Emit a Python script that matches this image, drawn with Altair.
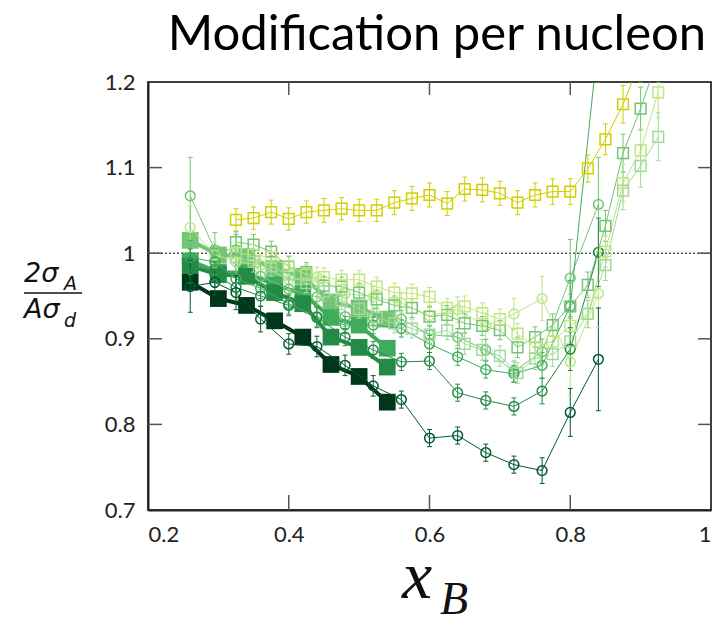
import altair as alt
import pandas as pd

# ---------------- data ----------------
x_filled = [0.26, 0.30, 0.34, 0.38, 0.42, 0.46, 0.50, 0.54]
y_f_C = [1.015, 0.998, 0.996, 0.982, 0.973, 0.943, 0.936, 0.923]
y_f_Al = [0.991, 0.978, 0.977, 0.963, 0.953, 0.925, 0.916, 0.889]
y_f_Fe = [0.985, 0.975, 0.973, 0.954, 0.941, 0.902, 0.890, 0.867]
y_f_Pb = [0.966, 0.947, 0.939, 0.921, 0.902, 0.870, 0.856, 0.826]

x_circle = [0.26, 0.295, 0.325, 0.36, 0.40, 0.44, 0.48, 0.52,
            0.56, 0.60, 0.64, 0.68, 0.72, 0.76, 0.80, 0.84]
y_c1 = [0.961, 0.966, 0.954, 0.923, 0.894, 0.891, 0.869, 0.845,
        0.829, 0.784, 0.787, 0.767, 0.753, 0.746, 0.814, 0.876]
e_c1 = [0.030, 0.015, 0.020, 0.015, 0.012, 0.012, 0.012, 0.012,
        0.010, 0.010, 0.010, 0.010, 0.010, 0.015, 0.028, 0.060]
y_c2 = [0.985, 0.975, 0.960, 0.950, 0.939, 0.925, 0.902, 0.887,
        0.873, 0.874, 0.837, 0.828, 0.821, 0.839, 0.888, 1.001]
e_c2 = [0.020, 0.015, 0.015, 0.012, 0.012, 0.012, 0.010, 0.010,
        0.010, 0.010, 0.010, 0.010, 0.010, 0.015, 0.025, 0.040]
y_c3 = [0.995, 0.990, 0.970, 0.959, 0.941, 0.926, 0.916, 0.916,
        0.912, 0.894, 0.879, 0.864, 0.859, 0.869, 0.938, 1.250]
e_c3 = [0.020, 0.015, 0.015, 0.012, 0.012, 0.012, 0.010, 0.010,
        0.010, 0.010, 0.010, 0.010, 0.010, 0.015, 0.030, 0.050]
y_c4 = [1.067, 1.004, 1.004, 0.973, 0.958, 0.949, 0.926, 0.925,
        0.923, 0.905, 0.902, 0.887, 0.862, 0.885, 0.971, 1.057]
e_c4 = [0.045, 0.020, 0.018, 0.015, 0.012, 0.012, 0.012, 0.010,
        0.010, 0.010, 0.010, 0.012, 0.012, 0.015, 0.045, 0.055]
y_c5 = [1.030, 0.998, 0.990, 0.986, 0.969, 0.972, 0.953, 0.949,
        0.942, 0.927, 0.934, 0.915, 0.929, 0.947, 0.873, 0.953]
e_c5 = [0.025, 0.015, 0.015, 0.012, 0.012, 0.012, 0.012, 0.012,
        0.012, 0.012, 0.015, 0.015, 0.018, 0.026, 0.040, 0.040]

x_square = [0.325, 0.35, 0.375, 0.40, 0.425, 0.45, 0.475, 0.50, 0.525,
            0.55, 0.575, 0.60, 0.625, 0.65, 0.675, 0.70, 0.725, 0.75,
            0.775, 0.80, 0.825, 0.85, 0.875, 0.90, 0.925]
y_s_he3 = [1.039, 1.041, 1.048, 1.040, 1.048, 1.050, 1.052, 1.050, 1.050,
           1.059, 1.064, 1.068, 1.058, 1.075, 1.074, 1.070, 1.059, 1.068,
           1.072, 1.072, 1.099, 1.133, 1.174, 1.225]
e_s_he3 = [0.013, 0.013, 0.014, 0.013, 0.013, 0.014, 0.013, 0.013, 0.013,
           0.014, 0.014, 0.014, 0.014, 0.014, 0.014, 0.014, 0.014, 0.014,
           0.015, 0.015, 0.016, 0.018, 0.022, 0.025]
y_s_g = [1.013, 1.010, 1.002, 0.984, 0.978, 0.962, 0.961, 0.954, 0.946,
         0.939, 0.936, 0.926, 0.928, 0.918, 0.915, 0.910, 0.890, 0.902,
         0.916, 0.938, 0.963, 1.032, 1.117, 1.169, 1.230]
e_s_g = [0.012, 0.012, 0.012, 0.012, 0.011, 0.011, 0.011, 0.011, 0.011,
         0.011, 0.011, 0.011, 0.011, 0.011, 0.011, 0.011, 0.012, 0.012,
         0.013, 0.014, 0.015, 0.018, 0.022, 0.025, 0.030]
y_s_yg = [1.000, 0.998, 0.995, 0.985, 0.975, 0.972, 0.969, 0.969, 0.961,
          0.954, 0.953, 0.949, 0.936, 0.938, 0.930, 0.923, 0.906, 0.890,
          0.897, 0.915, 0.929, 1.002, 1.082, 1.120, 1.188]
e_s_yg = [0.012, 0.012, 0.012, 0.012, 0.011, 0.011, 0.011, 0.011, 0.011,
          0.011, 0.011, 0.011, 0.011, 0.012, 0.012, 0.012, 0.012, 0.013,
          0.014, 0.015, 0.016, 0.018, 0.022, 0.025, 0.030]
y_s_lg = [0.995, 0.990, 0.985, 0.975, 0.965, 0.955, 0.945, 0.935, 0.925,
          0.918, 0.912, 0.905, 0.910, 0.894, 0.887, 0.880, 0.860, 0.877,
          0.882, 0.897, 0.929, 0.986, 1.073, 1.102, 1.136]
e_s_lg = [0.012, 0.012, 0.012, 0.012, 0.011, 0.011, 0.011, 0.011, 0.011,
          0.011, 0.011, 0.011, 0.011, 0.012, 0.012, 0.012, 0.012, 0.013,
          0.014, 0.015, 0.016, 0.018, 0.022, 0.025, 0.028]

series_names = ["he3_sq", "g_sq", "yg_sq", "lg_sq",
                "c5", "c4", "c3", "c2", "c1",
                "C_f", "Al_f", "Fe_f", "Pb_f"]
series_colors = ["#d0d000", "#74c476", "#c2e67f", "#a1d99b",
                 "#bfe58a", "#74c476", "#41ab5d", "#238b45", "#005a32",
                 "#74c476", "#41ab5d", "#238b45", "#00361a"]

x_inner_ticks = [0.4, 0.6, 0.8]
y_inner_ticks = [0.8, 0.9, 1.0, 1.1]
x_labels = [0.2, 0.4, 0.6, 0.8, 1.0]
y_labels = [0.7, 0.8, 0.9, 1.0, 1.1, 1.2]
unity = [1.0]
title_text = "Modification per nucleon"

# ---------------- tables ----------------
rows = []


def add(name, kind, xs, ys, es):
    for xv, yv, ev in zip(xs, ys, es):
        rows.append({"s": name, "kind": kind, "x": xv, "y": yv,
                     "lo": yv - ev, "hi": yv + ev})


add("he3_sq", "square", x_square, y_s_he3, e_s_he3)
add("g_sq", "square", x_square, y_s_g, e_s_g)
add("yg_sq", "square", x_square, y_s_yg, e_s_yg)
add("lg_sq", "square", x_square, y_s_lg, e_s_lg)
add("c5", "circle", x_circle, y_c5, e_c5)
add("c4", "circle", x_circle, y_c4, e_c4)
add("c3", "circle", x_circle, y_c3, e_c3)
add("c2", "circle", x_circle, y_c2, e_c2)
add("c1", "circle", x_circle, y_c1, e_c1)
for nm, ys in [("C_f", y_f_C), ("Al_f", y_f_Al), ("Fe_f", y_f_Fe), ("Pb_f", y_f_Pb)]:
    add(nm, "filled", x_filled, ys, [0.0] * len(ys))

df = pd.DataFrame(rows)
open_df = df[df.kind != "filled"]
circ_df = df[df.kind == "circle"]
sq_df = df[df.kind == "square"]
fill_df = df[df.kind == "filled"]

W, H = 563, 428
LABEL_FONT = "Lato"

xscale = alt.Scale(domain=[0.2, 1.0], nice=False, zero=False)
yscale = alt.Scale(domain=[0.7, 1.2], nice=False, zero=False)
X = alt.X("x:Q", scale=xscale,
          axis=alt.Axis(values=x_labels, format="~g", title=None, grid=False,
                        ticks=False, tickSize=0, labelPadding=14, labelFontSize=22,
                        labelFont=LABEL_FONT, labelColor="#222",
                        domainColor="#222", domainWidth=2))
Y = alt.Y("y:Q", scale=yscale,
          axis=alt.Axis(values=y_labels, format="~g", title=None, grid=False,
                        ticks=False, tickSize=0, labelPadding=13, labelFontSize=22,
                        labelFont=LABEL_FONT, labelColor="#222",
                        domainColor="#222", domainWidth=2))
C = alt.Color("s:N", scale=alt.Scale(domain=series_names, range=series_colors),
              legend=None)

unity_line = alt.Chart(pd.DataFrame({"y": unity})).mark_rule(
    color="black", strokeWidth=1, strokeDash=[2, 2]).encode(y=alt.Y("y:Q", scale=yscale))

fill_lines = alt.Chart(fill_df).mark_line(strokeWidth=4, clip=True).encode(
    x=X, y=Y, color=C, detail="s:N")
fill_pts = alt.Chart(fill_df).mark_point(
    shape="square", filled=True, size=280, opacity=1, clip=True).encode(x=X, y=Y, color=C)

open_lines = alt.Chart(open_df).mark_line(strokeWidth=1, clip=True).encode(
    x=X, y=Y, color=C, detail="s:N")
err = alt.Chart(open_df).mark_rule(strokeWidth=1, clip=True).encode(
    x=X, y=alt.Y("lo:Q", scale=yscale), y2="hi:Q", color=C)
cap_lo = alt.Chart(open_df).mark_tick(
    orient="horizontal", size=5, thickness=1, opacity=1, clip=True).encode(
    x=X, y=alt.Y("lo:Q", scale=yscale), color=C)
cap_hi = alt.Chart(open_df).mark_tick(
    orient="horizontal", size=5, thickness=1, opacity=1, clip=True).encode(
    x=X, y=alt.Y("hi:Q", scale=yscale), color=C)
circ_pts = alt.Chart(circ_df).mark_point(
    shape="circle", filled=False, size=95, strokeWidth=1.5, opacity=1, clip=True).encode(
    x=X, y=Y, color=C)
sq_pts = alt.Chart(sq_df).mark_point(
    shape="square", filled=False, size=115, strokeWidth=1.5, opacity=1, clip=True).encode(
    x=X, y=Y, color=C)

# inward ticks on all four sides
xt = pd.DataFrame({"x": x_inner_ticks})
yt = pd.DataFrame({"y": y_inner_ticks})
tick_style = dict(color="#555", strokeWidth=1.5)
t_bottom = alt.Chart(xt).mark_rule(**tick_style).encode(
    x=alt.X("x:Q", scale=xscale), y=alt.value(H), y2=alt.value(H - 15))
t_top = alt.Chart(xt).mark_rule(**tick_style).encode(
    x=alt.X("x:Q", scale=xscale), y=alt.value(0), y2=alt.value(13))
t_left = alt.Chart(yt).mark_rule(**tick_style).encode(
    y=alt.Y("y:Q", scale=yscale), x=alt.value(0), x2=alt.value(14))
t_right = alt.Chart(yt).mark_rule(**tick_style).encode(
    y=alt.Y("y:Q", scale=yscale), x=alt.value(W), x2=alt.value(W - 13))

# texts
one = pd.DataFrame({"k": [0]})


def txt(t, x, y, size, font="Lato", style="normal", align="left", color="#111"):
    return alt.Chart(one).mark_text(
        text=t, fontSize=size, font=font, fontStyle=style, align=align,
        baseline="alphabetic", color=color).encode(x=alt.value(x), y=alt.value(y))


title = txt(title_text, 289, -32, 49, font="Lato", align="center", color="#000")
num = txt("2σ", -124, 200, 27, font="DejaVu Sans", style="italic")
num_sub = txt("A", -84, 208, 19, font="DejaVu Sans", style="italic")
den = txt("Aσ", -124, 236, 27, font="DejaVu Sans", style="italic")
den_sub = txt("d", -84, 245, 19, font="DejaVu Sans", style="italic")
frac_bar = alt.Chart(one).mark_rule(color="#111", strokeWidth=1.5).encode(
    x=alt.value(-124), x2=alt.value(-66), y=alt.value(211))
xb = txt("x", 269, 516, 68, font="Liberation Serif", style="italic", align="center")
xb_sub = txt("B", 292, 532, 46, font="Liberation Serif", style="italic")

chart = alt.layer(
    unity_line, fill_lines, fill_pts,
    open_lines, err, cap_lo, cap_hi, circ_pts, sq_pts,
    t_bottom, t_top, t_left, t_right,
    title, num, num_sub, den, den_sub, frac_bar, xb, xb_sub,
).properties(
    width=W, height=H,
    autosize=alt.AutoSizeParams(type="none"),
    padding={"left": 148, "top": 82, "right": 7, "bottom": 115},
).configure_view(stroke="black", strokeWidth=1.5)

chart.save("out.html", embed_options={"renderer": "svg", "actions": False})
